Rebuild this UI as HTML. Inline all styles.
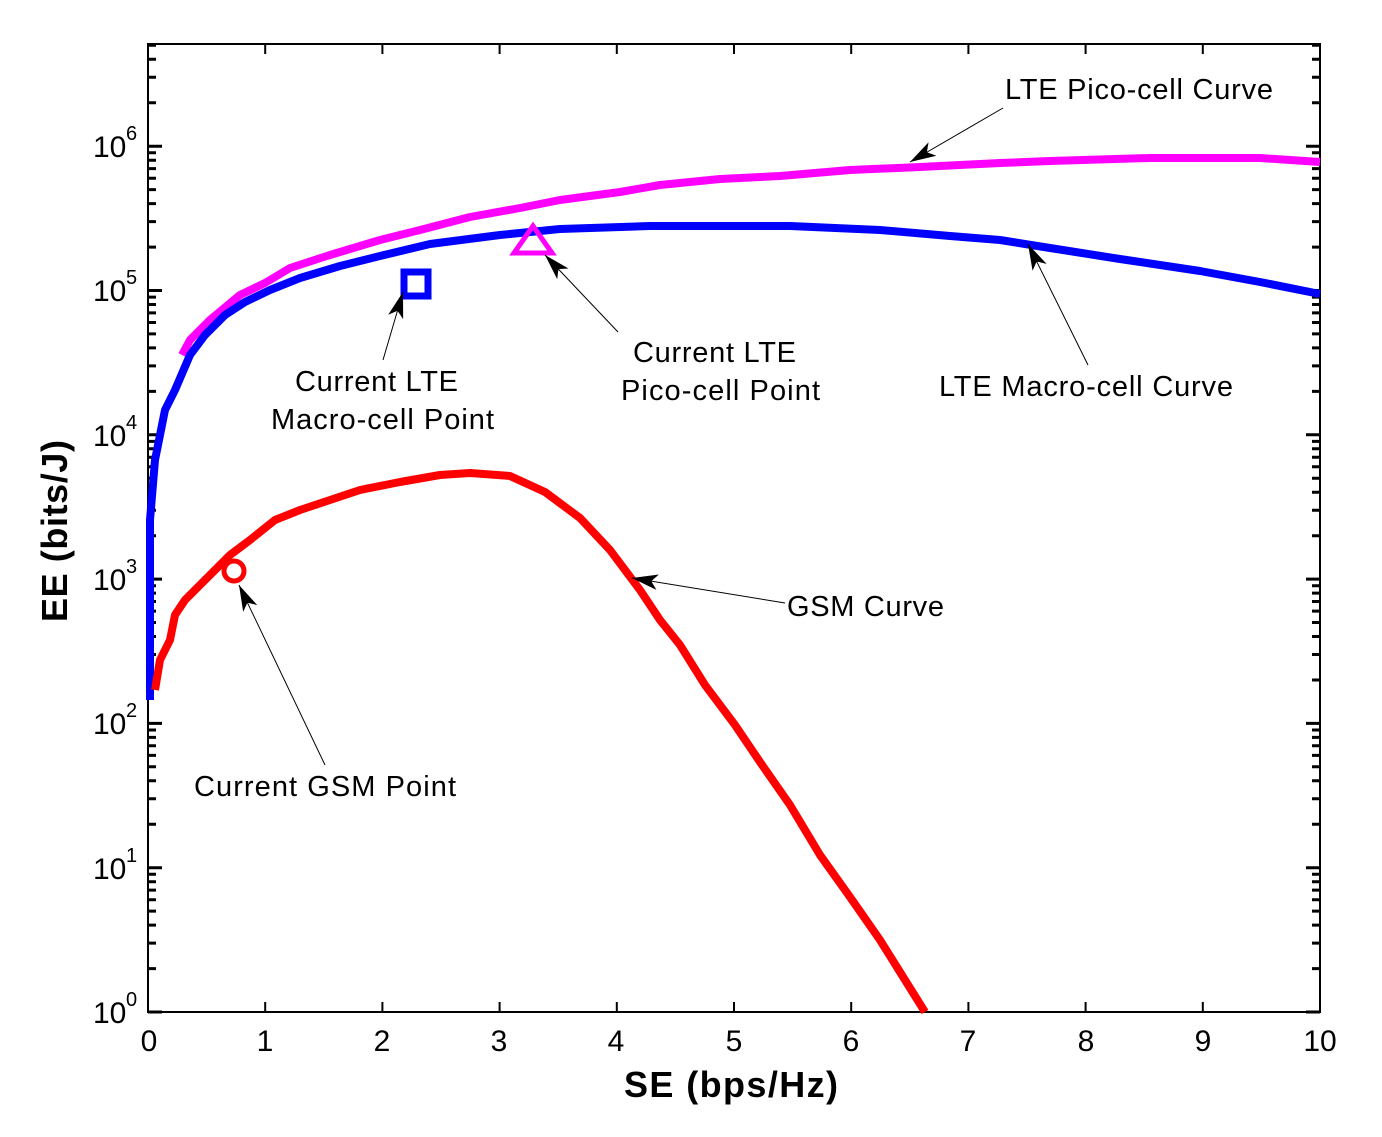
<!DOCTYPE html>
<html><head><style>body{margin:0;background:#fff}svg{display:block}text{font-family:"Liberation Sans",Arial,sans-serif}</style></head><body>
<svg width="1382" height="1137" viewBox="0 0 1382 1137">
<defs>
<marker id="a" viewBox="0 0 20 12" refX="20" refY="6" markerWidth="26" markerHeight="16" orient="auto" markerUnits="userSpaceOnUse"><path d="M0,0 L20,6 L0,12 L5,6 z" fill="#000"/></marker>
<g id="lt" stroke="#000" stroke-width="3" fill="none">
<path d="M148,1012h14 M148,968.6h8 M148,943.1h8 M148,925.1h8 M148,911.1h8 M148,899.7h8 M148,890.1h8 M148,881.7h8 M148,874.3h8
M148,867.7h14 M148,824.3h8 M148,798.8h8 M148,780.8h8 M148,766.8h8 M148,755.4h8 M148,745.8h8 M148,737.4h8 M148,730h8
M148,723.4h14 M148,680h8 M148,654.5h8 M148,636.5h8 M148,622.5h8 M148,611.1h8 M148,601.5h8 M148,593.1h8 M148,585.7h8
M148,579.1h14 M148,535.7h8 M148,510.2h8 M148,492.2h8 M148,478.2h8 M148,466.8h8 M148,457.2h8 M148,448.8h8 M148,441.4h8
M148,434.8h14 M148,391.4h8 M148,365.9h8 M148,347.9h8 M148,333.9h8 M148,322.5h8 M148,312.9h8 M148,304.5h8 M148,297.1h8
M148,290.5h14 M148,247.1h8 M148,221.6h8 M148,203.6h8 M148,189.6h8 M148,178.2h8 M148,168.6h8 M148,160.2h8 M148,152.8h8
M148,146.2h14 M148,102.8h8 M148,77.3h8 M148,59.3h8 M148,45.3h8"/>
</g>
</defs>
<rect x="148" y="44" width="1172" height="968" fill="none" stroke="#000" stroke-width="2"/>
<use href="#lt"/>
<use href="#lt" transform="translate(1468,0) scale(-1,1)"/>
<path stroke="#000" stroke-width="2" fill="none" d="M265.2,1012v-10 M382.4,1012v-10 M499.6,1012v-10 M616.8,1012v-10 M734,1012v-10 M851.2,1012v-10 M968.4,1012v-10 M1085.6,1012v-10 M1202.8,1012v-10
M265.2,44v10 M382.4,44v10 M499.6,44v10 M616.8,44v10 M734,44v10 M851.2,44v10 M968.4,44v10 M1085.6,44v10 M1202.8,44v10"/>
<g font-size="30" fill="#000" text-anchor="middle">
<text x="149" y="1051">0</text><text x="265" y="1051">1</text><text x="382" y="1051">2</text><text x="499" y="1051">3</text><text x="616" y="1051">4</text><text x="734" y="1051">5</text><text x="851" y="1051">6</text><text x="968" y="1051">7</text><text x="1086" y="1051">8</text><text x="1203" y="1051">9</text><text x="1320" y="1051">10</text>
</g>
<g font-size="30" fill="#000">
<text x="93" y="1023">10</text><text x="126" y="1006" font-size="20">0</text>
<text x="93" y="879">10</text><text x="126" y="862" font-size="20">1</text>
<text x="93" y="734">10</text><text x="126" y="717" font-size="20">2</text>
<text x="93" y="590">10</text><text x="126" y="573" font-size="20">3</text>
<text x="93" y="446">10</text><text x="126" y="429" font-size="20">4</text>
<text x="93" y="301">10</text><text x="126" y="284" font-size="20">5</text>
<text x="93" y="157">10</text><text x="126" y="140" font-size="20">6</text>
</g>
<text x="624" y="1097" font-size="36" font-weight="bold" textLength="214">SE (bps/Hz)</text>
<text transform="translate(67,622) rotate(-90)" font-size="36" font-weight="bold" textLength="182">EE (bits/J)</text>
<g fill="none" stroke-width="8" stroke-linejoin="round" stroke-linecap="butt">
<polyline stroke="#ff00ff" points="182,355 190,340 210,320 240,295 265,283 290,268 330,255 380,240 420,230 470,217 520,208 560,200 620,192 660,185 720,179 780,176 850,170 920,167 1000,163 1050,161 1150,158 1260,158 1320,162"/>
<polyline stroke="#0000ff" points="150,700 150,520 155,460 165,410 175,390 190,355 205,335 225,315 245,302 270,290 300,278 340,266 380,256 430,244 500,235 560,229 650,226 790,226 880,230 950,236 1000,240 1050,248 1120,259 1200,271 1260,282 1320,294"/>
<polyline stroke="#ff0000" points="155,690 160,660 170,640 175,615 185,600 195,590 210,575 230,555 250,540 275,520 300,510 330,500 360,490 400,482 440,475 470,473 510,476 545,492 580,518 610,550 640,590 660,620 680,645 705,685 735,725 760,762 790,805 820,855 850,897 880,940 905,980 925,1012"/>
</g>
<rect x="404" y="272" width="24" height="24" fill="none" stroke="#0000ff" stroke-width="7"/>
<polygon points="533,226 514,253 552,253" fill="none" stroke="#ff00ff" stroke-width="5"/>
<circle cx="234" cy="571" r="10" fill="none" stroke="#ff0000" stroke-width="5"/>
<g stroke="#000" stroke-width="1" fill="none">
<line x1="1003" y1="108" x2="910" y2="162" marker-end="url(#a)"/>
<line x1="383" y1="360" x2="403" y2="292" marker-end="url(#a)"/>
<line x1="618" y1="332" x2="545" y2="255" marker-end="url(#a)"/>
<line x1="1088" y1="365" x2="1028" y2="244" marker-end="url(#a)"/>
<line x1="785" y1="603" x2="632" y2="578" marker-end="url(#a)"/>
<line x1="325" y1="765" x2="239" y2="585" marker-end="url(#a)"/>
</g>
<g font-size="29">
<text x="1005" y="99" textLength="268">LTE Pico-cell Curve</text>
<text x="295" y="391" textLength="163">Current LTE</text><text x="271" y="429" textLength="223">Macro-cell Point</text>
<text x="633" y="362" textLength="163">Current LTE</text><text x="621" y="400" textLength="199">Pico-cell Point</text>
<text x="939" y="396" textLength="294">LTE Macro-cell Curve</text>
<text x="787" y="616" textLength="157">GSM Curve</text>
<text x="194" y="796" textLength="262">Current GSM Point</text>
</g>
</svg></body></html>
